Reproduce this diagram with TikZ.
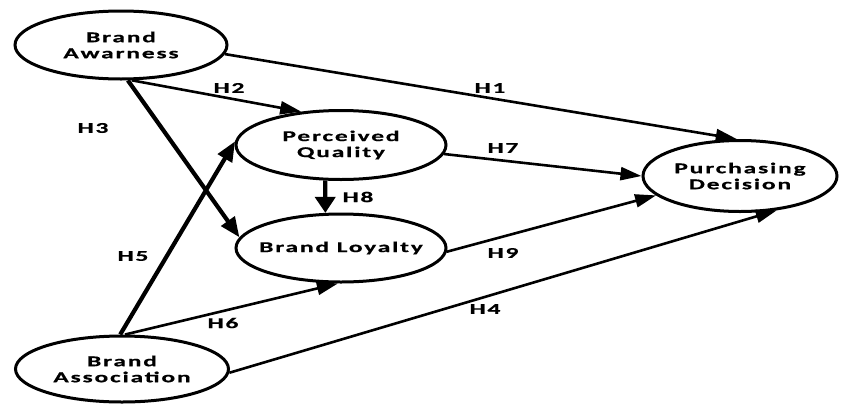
\documentclass[tikz,border=0pt]{standalone}
\usepackage{fontspec}
\usetikzlibrary{shapes.geometric,arrows.meta}
\newfontfamily\labfont[FakeStretch=1.7,LetterSpace=12,BoldFeatures={FakeBold=0.6}]{Carlito}
\begin{document}
\begin{tikzpicture}[x=1pt,y=-1pt,
  construct/.style={ellipse,draw=black,line width=3pt,fill=white,inner sep=0pt},
  lab/.style={align=center,inner sep=0pt,font=\labfont\bfseries\fontsize{15}{16}\selectfont},
  hyp/.style={font=\labfont\bfseries\fontsize{15}{16}\selectfont,inner sep=0pt},
  thinarrow/.style={line width=2.6pt,-{Triangle[length=21pt,width=13pt]}},
  thickarrow/.style={line width=4.2pt,-{Triangle[length=20pt,width=16pt]}},
  shortarrow/.style={line width=4.2pt,-{Triangle[length=16pt,width=20pt]}}]
\useasboundingbox (0,0) rectangle (843,405);
\node[construct,minimum width=212pt,minimum height=68pt] (BA) at (121,45) {};
\node[construct,minimum width=210pt,minimum height=69pt] (PQ) at (341,145) {};
\node[construct,minimum width=210pt,minimum height=68pt] (BL) at (341,248) {};
\node[construct,minimum width=213pt,minimum height=66pt] (BS) at (122,369) {};
\node[construct,minimum width=194pt,minimum height=71pt] (PD) at (740,176) {};
\node[lab] (tBA) at (BA) {Brand\\Awarness};
\node[lab] (tPQ) at (PQ) {Perceived\\Quality};
\node[lab] (tBL) at (BL) {Brand Loyalty};
\node[lab] (tBS) at (BS) {Brand\\Association};
\node[lab] (tPD) at (PD) {Purchasing\\Decision};

\draw[thinarrow] (BA.-5) -- (PD.95);
\draw[thinarrow] (BA.-73) -- (PQ.140);
\draw[thickarrow] (BA.-79) -- (BL.174);
\draw[thickarrow] (BS.93) -- (PQ.178);
\draw[thinarrow] (BS.85) -- (BL.-95);
\draw[thinarrow] (BS.-2) -- (PD.-43);
\draw[thinarrow] (PQ.-5) -- (PD.180);
\draw[thinarrow] (BL.-2) -- (PD.-167);
\draw[shortarrow] (PQ.-114) -- (BL.114);

\node[hyp] (h1) at (490,88) {H1};
\node[hyp] (h2) at (229,88) {H2};
\node[hyp] (h3) at (93,128) {H3};
\node[hyp] (h4) at (485,309) {H4};
\node[hyp] (h5) at (133,256) {H5};
\node[hyp] (h6) at (223,323) {H6};
\node[hyp] (h7) at (503,148) {H7};
\node[hyp] (h8) at (358,197) {H8};
\node[hyp] (h9) at (503,253) {H9};
\end{tikzpicture}
\end{document}
